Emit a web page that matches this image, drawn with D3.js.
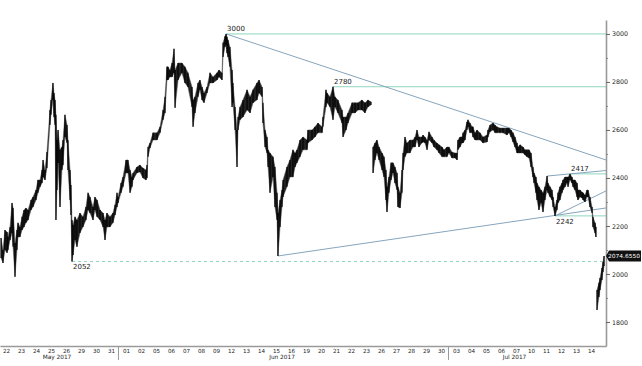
<!DOCTYPE html>
<html><head><meta charset="utf-8">
<script src="https://cdn.jsdelivr.net/npm/d3@7"></script>
<style>body{margin:0;background:#fff}svg{display:block}text{font-family:"DejaVu Sans",sans-serif}</style>
</head><body><svg id="c" width="642" height="366"></svg>
<script>
// time in trading-day units from 22 May 2017 (weekends compressed)
const time = [0.17,0.30,0.43,0.57,0.63,0.77,0.90,0.97,1.10,1.23,1.30,1.43,1.57,1.70,1.83,1.97,2.17,2.30,2.50,2.63,2.77,2.90,2.97,3.10,3.23,3.43,3.50,3.63,3.70,3.77,3.83,3.90,3.97,4.10,4.23,4.30,4.43,4.57,4.63,4.77,4.83,4.90,4.97,5.10,5.23,5.43,5.63,5.83,5.97,6.10,6.30,6.43,6.57,6.77,6.97,7.10,7.23,7.43,7.63,7.77,7.90,7.97,8.17,8.30,8.50,8.63,8.77,8.90,8.97,9.23,9.43,9.63,9.83,9.90,9.97,10.10,10.30,10.57,10.77,10.97,11.10,11.23,11.30,11.43,11.57,11.70,11.77,11.97,12.23,12.43,12.63,12.90,12.97,13.10,13.30,13.43,13.57,13.70,13.90,14.10,14.30,14.57,14.70,14.90,14.97,15.10,15.17,15.23,15.30,15.43,15.57,15.63,15.77,15.90,15.97,16.10,16.30,16.57,16.77,16.97,17.23,17.37,17.57,17.63,17.77,17.90,17.97,18.10,18.30,18.43,18.57,18.63,18.77,18.90,18.97,19.23,19.43,19.63,19.77,19.90,20.10,20.30,20.57,20.63,20.90,21.10,21.30,21.57,21.63,21.83,21.90,22.10,22.30,22.43,22.63,22.90,22.97,23.17,23.30,23.57,23.77,23.97,24.23,24.43,24.63,24.83,
 24.97,25.10,25.23,25.37,25.57,25.70,25.83,25.90,26.03,26.17,26.30,26.43,26.57,26.63,26.77,26.90,26.97,27.10,27.23,27.43,27.63,27.77,27.90,28.03,28.23,28.30,28.43,28.57,28.70,28.90,29.03,29.23,29.37,29.57,29.70,29.90,30.03,30.23,30.43,30.57,30.63,30.77,30.90,30.97,31.10,31.23,31.30,31.43,31.57,31.63,31.77,31.90,32.10,32.30,32.57,32.63,32.77,32.97,33.10,33.23,33.43,33.63,33.90,34.03,34.17,34.30,34.43,34.57,34.63,34.77,34.97,35.10,35.23,35.37,35.50,35.63,35.70,35.83,35.90,36.03,36.17,36.30,36.43,36.57,36.63,36.77,36.90,36.97,37.10,37.23,37.30,37.43,37.57,37.63,37.77,37.90,37.97,38.10,38.23,38.30,38.43,38.57,38.63,38.77,38.90,38.97,39.10,39.23,39.30,39.43,39.57,39.63,39.77,39.83,
 39.90,40.03,40.10,40.23,40.30,40.37];
const high = [2150,2100,2183,2175,2154,2196,2296,2275,2129,2183,2213,2196,2238,2267,2275,2267,2308,2321,2350,2392,2392,2433,2475,2433,2508,2683,2725,2796,2754,2725,2663,2558,2600,2517,2529,2558,2663,2621,2558,2433,2371,2225,2204,2238,2225,2254,2238,2279,2338,2321,2279,2321,2308,2267,2254,2225,2254,2238,2254,2288,2338,2321,2379,2404,2475,2475,2433,2404,2421,2446,2454,2442,2433,2454,2529,2546,2588,2588,2613,2683,2738,2863,2863,2850,2879,2938,2850,2879,2879,2863,2838,2779,2725,2738,2796,2808,2779,2754,2779,2838,2821,2838,2850,2838,2963,2990,3000,2988,2975,2946,2850,2796,2696,2600,2654,2696,2725,2767,2738,2767,2796,2808,2779,2713,2600,2571,2517,2504,2488,2446,2338,2254,2308,2350,2392,2446,2475,2517,2504,2517,2558,2571,2558,2600,2600,2613,2629,2613,2654,2767,2754,2738,2780,2738,2725,2683,2654,2654,2671,2713,2713,2713,2725,2713,2725,2717,
 2529,2546,2558,2529,2504,2488,2433,2363,2404,2463,2463,2446,2421,2363,2338,2433,2504,2571,2546,2558,2558,2571,2600,2571,2571,2579,2571,2558,2592,2571,2558,2546,2538,2529,2517,2529,2529,2508,2504,2504,2558,2571,2571,2588,2600,2633,2642,2629,2613,2613,2588,2600,2588,2571,2579,2600,2621,2629,2621,2613,2608,2608,2608,2608,2600,2588,2571,2546,2529,2538,2529,2517,2517,2517,2504,2446,2421,2404,2379,2363,2350,2338,2363,2408,2379,2363,2350,2321,2279,2308,2338,2363,2379,2392,2404,2404,2404,2417,2404,2392,2392,2379,2350,2350,2342,2338,2329,2350,2350,2321,2279,2238,2213,2196,
 1933,1963,1983,2025,2050,2075];
const low = [2067,2046,2100,2088,2100,2142,2171,2113,1988,2100,2154,2154,2183,2196,2213,2225,2267,2279,2308,2338,2363,2379,2404,2392,2442,2621,2663,2725,2654,2621,2225,2350,2463,2279,2433,2454,2571,2546,2433,2308,2246,2052,2079,2142,2113,2171,2196,2225,2267,2254,2225,2267,2238,2225,2196,2142,2196,2196,2213,2246,2279,2296,2338,2363,2421,2421,2338,2363,2392,2421,2425,2400,2392,2400,2488,2525,2558,2558,2588,2642,2671,2808,2808,2821,2821,2838,2692,2808,2838,2796,2779,2696,2613,2671,2738,2767,2725,2713,2754,2796,2796,2808,2821,2808,2904,2946,2954,2921,2904,2863,2696,2713,2600,2446,2600,2642,2654,2683,2671,2713,2725,2754,2738,2629,2529,2504,2446,2338,2404,2279,2225,2075,2196,2279,2321,2363,2404,2404,2446,2463,2488,2517,2517,2546,2558,2571,2588,2588,2613,2696,2713,2696,2642,2696,2671,2629,2571,2600,2629,2671,2671,2683,2683,2671,2696,2704,
 2421,2475,2504,2475,2433,2404,2308,2258,2338,2392,2421,2379,2350,2279,2275,2338,2433,2488,2504,2504,2529,2529,2558,2529,2546,2550,2546,2517,2558,2546,2529,2517,2504,2488,2488,2488,2504,2483,2483,2475,2517,2529,2546,2546,2558,2600,2613,2588,2588,2571,2558,2558,2558,2546,2550,2571,2592,2600,2588,2588,2588,2588,2579,2588,2571,2550,2529,2504,2504,2504,2504,2496,2488,2483,2446,2404,2379,2338,2308,2267,2296,2258,2308,2350,2338,2321,2308,2279,2242,2267,2296,2308,2338,2350,2363,2379,2363,2392,2379,2363,2350,2321,2308,2321,2317,2308,2300,2321,2321,2279,2254,2196,2171,2154,
 1850,1904,1933,1975,2008,2033];
const dataGaps = [24.9, 39.87];
const lastValue = 2074.655;

const levelValues = [3000, 2780, 2417, 2242, 2052];
const levelFrom   = [15.17, 22.30, 38.10, 37.10, 4.90];
const levelLabelBelow = [false, false, false, true, true];
const levelDashed = [false, false, false, false, true];

const trendStart = [[15.17, 3000], [18.63, 2075], [36.57, 2408], [37.10, 2242]];
const trendEnd   = [[40.5, 2475], [40.5, 2275], [40.5, 2431], [40.5, 2346]];

const dayLabels = ["22","23","24","25","26","29","30","31","01","02","05","06","07","08","09","12","13","14","15","16","19","20","21","22","23","26","27","28","29","30","03","04","05","06","07","10","11","12","13","14"];
const monthLabels = ["May 2017", "Jun 2017", "Jul 2017"];
const monthLabelDay = [3.9, 18.9, 34.4];
const monthBreakDay = [8, 30];
const yMajor = [1800, 2000, 2200, 2400, 2600, 2800, 3000];
const yMinor = [1900, 2100, 2300, 2500, 2700, 2900];

const svg = d3.select("#c");
const W = 606, B = 346, T = 20;
const x = d3.scaleLinear().domain([0.1, 40.5]).range([0, W]);
const y = d3.scaleLinear().domain([1700, 3058]).range([B, T]);

const green = "#8fd6bd", blue = "#86a5bd";

// level lines
levelValues.forEach((v, i) => {
  svg.append("line").attr("x1", x(levelFrom[i])).attr("x2", W)
    .attr("y1", y(v)).attr("y2", y(v))
    .attr("stroke", green).attr("stroke-width", 1)
    .attr("stroke-dasharray", levelDashed[i] ? "3,3" : null);
});
// trend lines
trendStart.forEach((s, i) => {
  svg.append("line").attr("x1", x(s[0])).attr("y1", y(s[1]))
    .attr("x2", x(trendEnd[i][0])).attr("y2", y(trendEnd[i][1]))
    .attr("stroke", blue).attr("stroke-width", 1);
});

// series
const pts = time.map((t, i) => ({t, h: high[i], l: low[i]}));
const segs = []; let cur = [];
pts.forEach((p, i) => {
  if (i > 0 && dataGaps.some(g => pts[i-1].t < g && g < p.t)) { segs.push(cur); cur = []; }
  cur.push(p);
});
segs.push(cur);
const area = d3.area().x(d => x(d.t)).y0(d => y(d.l)).y1(d => y(d.h));
const g = svg.append("g");
segs.forEach(s => {
  g.append("path").attr("d", area(s)).attr("fill", "#222").attr("stroke", "#555").attr("stroke-width", 0.5);
  g.selectAll(null).data(s).enter().append("line")
    .attr("x1", d => x(d.t)).attr("x2", d => x(d.t))
    .attr("y1", d => y(d.h)).attr("y2", d => y(d.l))
    .attr("stroke", "#000").attr("stroke-width", 1.1);
});

// level labels
levelValues.forEach((v, i) => {
  svg.append("text").attr("x", x(levelFrom[i]) + 1)
    .attr("y", levelLabelBelow[i] ? y(v) + 8 : y(v) - 2.5)
    .attr("font-size", 7).attr("fill", "#222").text(v);
});

// y axis
const ya = svg.append("g").attr("transform", `translate(${W},0)`)
  .call(d3.axisRight(y).tickValues(yMajor).tickSize(4).tickSizeOuter(0).tickPadding(2).tickFormat(d3.format("d")));
ya.select(".domain").attr("stroke", "#9a9a9a").attr("stroke-width", 1.6);
ya.selectAll(".tick line").attr("stroke", "#666");
ya.selectAll("text").attr("font-size", 6.3).attr("fill", "#222").attr("font-family", "DejaVu Sans");
const ym = svg.append("g").attr("transform", `translate(${W},0)`)
  .call(d3.axisRight(y).tickValues(yMinor).tickSize(2).tickFormat(""));
ym.select(".domain").remove();
ym.selectAll(".tick line").attr("stroke", "#888");

// x axis
const xa = svg.append("g").attr("transform", `translate(0,${B})`)
  .call(d3.axisBottom(x).tickValues(dayLabels.map((d, i) => i + 0.5)).tickSize(0).tickSizeOuter(0).tickPadding(3)
    .tickFormat((d, i) => dayLabels[i]));
xa.select(".domain").attr("stroke", "#9a9a9a").attr("stroke-width", 1.6);
xa.selectAll("text").attr("font-size", 5.6).attr("fill", "#222").attr("font-family", "DejaVu Sans");
monthBreakDay.forEach(d => {
  svg.append("line").attr("x1", x(d)).attr("x2", x(d)).attr("y1", B).attr("y2", B + 14)
    .attr("stroke", "#9a9a9a").attr("stroke-width", 1);
});
monthLabels.forEach((m, i) => {
  svg.append("text").attr("x", x(monthLabelDay[i])).attr("y", B + 12.5)
    .attr("text-anchor", "middle").attr("font-size", 5.8).attr("fill", "#222").text(m);
});

// last value tag
const ly = y(lastValue);
svg.append("path").attr("d", `M${W},${ly} L${W + 3},${ly - 5.5} L${641},${ly - 5.5} L${641},${ly + 5.5} L${W + 3},${ly + 5.5} Z`)
  .attr("fill", "#111");
svg.append("text").attr("x", 624).attr("y", ly + 2.1).attr("font-size", 5.6).attr("fill", "#fff")
  .attr("text-anchor", "middle").attr("textLength", 32).attr("lengthAdjust", "spacingAndGlyphs")
  .text(d3.format(".4f")(lastValue));
</script></body></html>
